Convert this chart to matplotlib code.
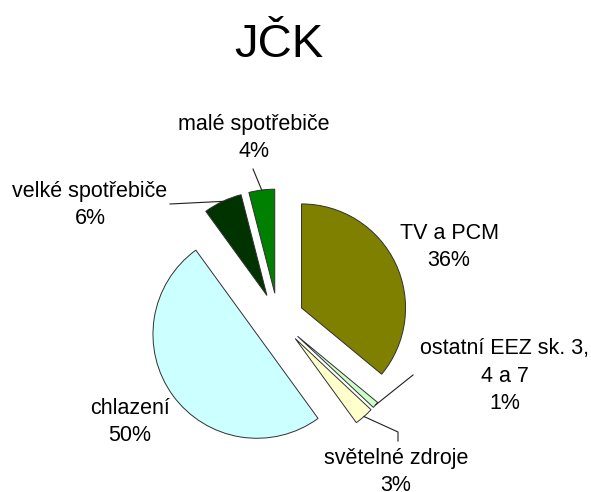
import matplotlib
matplotlib.use("Agg")
import matplotlib.pyplot as plt
import numpy as np

plt.rcParams['font.family'] = ['Liberation Sans', 'DejaVu Sans']

# ---- data ----
categories = ["TV a PCM", "ostatní EEZ sk. 3,\n4 a 7", "světelné zdroje",
              "chlazení", "velké spotřebiče", "malé spotřebiče"]
values = [36, 1, 3, 50, 6, 4]
colors = ["#808000", "#CCFFCC", "#FFFFCC", "#CCFFFF", "#003300", "#008000"]
title = "JČK"

# ---- layout ----
W, H = 591, 492
CX, CY, R = 278, 319, 104          # pie centre & radius in pixels
EXPLODE = 0.25

fig = plt.figure(figsize=(W / 100, H / 100), dpi=100)
ax = fig.add_axes([0, 0, 1, 1])

def px(x, y):
    return (x - CX) / R, (CY - y) / R

wedges, _ = ax.pie(values, colors=colors, startangle=90, counterclock=False,
                   explode=[EXPLODE] * len(values), radius=1,
                   wedgeprops=dict(edgecolor="#303030", linewidth=0.7))
ax.set_aspect('auto')
ax.set_xlim(-CX / R, (W - CX) / R)
ax.set_ylim(-(H - CY) / R, CY / R)
ax.axis('off')

# label block centres (pixels) and leader-line label anchors
label_pos = {
    0: (449, 247),
    1: (505, 376),
    2: (396, 472),
    3: (130, 422),
    4: (90, 205),
    5: (254, 138),
}
leader = {
    1: [(413, 375)],
    2: [(398, 432), (398, 441)],
    4: [(170, 204)],
    5: [(253, 169)],
}

for i, w in enumerate(wedges):
    txt = f"{categories[i]}\n{values[i]}%"
    x, y = px(*label_pos[i])
    ax.text(x, y, txt, ha='center', va='center', fontsize=15.5,
            linespacing=1.38, color='black')
    if i in leader:
        mid = np.deg2rad((w.theta1 + w.theta2) / 2)
        sx = (1 + EXPLODE) * np.cos(mid)
        sy = (1 + EXPLODE) * np.sin(mid)
        pts = [(sx, sy)] + [px(*p) for p in leader[i]]
        xs, ys = zip(*pts)
        ax.plot(xs, ys, color='#202020', linewidth=0.8)

fig.text(279 / W, 1 - 57 / H, title, ha='center', va='baseline', fontsize=34)

fig.savefig("out.png", dpi=100, facecolor='white')
